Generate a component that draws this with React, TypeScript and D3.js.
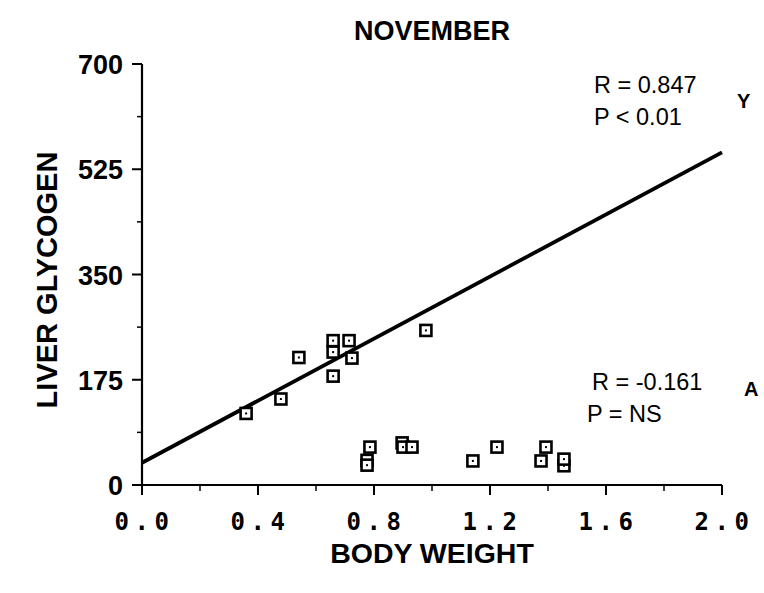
import React from "react";
import * as d3 from "d3";

const title = "NOVEMBER";
const xLabel = "BODY WEIGHT";
const yLabel = "LIVER GLYCOGEN";
const xTicks = [0, 0.4, 0.8, 1.2, 1.6, 2.0];
const xMinorTicks = [0.2, 0.6, 1.0, 1.4, 1.8];
const yTicks = [0, 175, 350, 525, 700];
const yMinorTicks = [87.5, 262.5, 437.5, 612.5];

// Group Y
const yWeight = [0.359, 0.479, 0.541, 0.659, 0.714, 0.659, 0.724, 0.659, 0.979];
const yGlycogen = [119, 143, 212, 240, 240, 221, 211, 181, 257];
// Group A
const aWeight = [0.786, 0.776, 0.776, 0.897, 0.9, 0.931, 1.141, 1.224, 1.393, 1.376, 1.455, 1.455];
const aGlycogen = [63, 41, 33, 70, 63, 63, 40, 63, 63, 40, 32, 43];

// regression line for group Y
const regX = [0, 2.0];
const regY = [37, 553];

const W = 764;
const H = 593;

export default function App() {
  const x = d3.scaleLinear().domain([0, 2]).range([142, 722]);
  const y = d3.scaleLinear().domain([0, 700]).range([485, 64]);
  const pts = [
    ...yWeight.map((w, i) => [w, yGlycogen[i]]),
    ...aWeight.map((w, i) => [w, aGlycogen[i]]),
  ];
  const line = d3.line<number>().x((d) => x(d)).y((_, i) => y(regY[i]));
  const sans = "'Liberation Sans', Arial, sans-serif";
  return (
    <svg width={W} height={H} style={{ position: "absolute", left: 0, top: 0, background: "#fff" }}>
      <text x={432} y={40} textAnchor="middle" fontFamily={sans} fontWeight="bold" fontSize={27}>
        {title}
      </text>
      {/* axes */}
      <line x1={x(0)} x2={x(2)} y1={y(0)} y2={y(0)} stroke="#000" strokeWidth={2.2} />
      <line x1={x(0)} x2={x(0)} y1={y(0)} y2={y(700)} stroke="#000" strokeWidth={2.2} />
      {yTicks.map((t) => (
        <g key={"yt" + t}>
          <line x1={x(0) - 10} x2={x(0)} y1={y(t)} y2={y(t)} stroke="#000" strokeWidth={2} />
          <text x={123} y={y(t) + 10} textAnchor="end" fontFamily={sans} fontWeight="bold" fontSize={27}>
            {t}
          </text>
        </g>
      ))}
      {yMinorTicks.map((t) => (
        <line key={"ym" + t} x1={x(0) - 5} x2={x(0)} y1={y(t)} y2={y(t)} stroke="#000" strokeWidth={1.5} />
      ))}
      {xTicks.map((t) => (
        <g key={"xt" + t}>
          <line x1={x(t)} x2={x(t)} y1={y(0)} y2={y(0) + 10} stroke="#000" strokeWidth={2} />
          <text
            x={x(t) + 2.5}
            y={530}
            textAnchor="middle"
            fontFamily="'DejaVu Sans Mono', monospace"
            fontWeight="bold"
            fontSize={24}
            letterSpacing={5.5}
          >
            {t.toFixed(1)}
          </text>
        </g>
      ))}
      {xMinorTicks.map((t) => (
        <line key={"xm" + t} x1={x(t)} x2={x(t)} y1={y(0)} y2={y(0) + 6} stroke="#000" strokeWidth={1.5} />
      ))}
      <text x={432} y={563} textAnchor="middle" fontFamily={sans} fontWeight="bold" fontSize={28.5}>
        {xLabel}
      </text>
      <text
        transform={`translate(57,280) rotate(-90)`}
        textAnchor="middle"
        fontFamily={sans}
        fontWeight="bold"
        fontSize={29}
      >
        {yLabel}
      </text>
      {/* regression */}
      <path d={line(regX) || ""} stroke="#000" strokeWidth={3.8} fill="none" />
      {/* points */}
      {pts.map(([w, g], i) => (
        <g key={"p" + i}>
          <rect x={x(w) - 5.5} y={y(g) - 5.5} width={11} height={11} fill="#fff" stroke="#000" strokeWidth={2.6} />
          <rect x={x(w) - 1} y={y(g) - 1} width={2} height={2} fill="#000" />
        </g>
      ))}
      {/* annotations */}
      <text x={594} y={93} fontFamily={sans} fontSize={23.5}>R = 0.847</text>
      <text x={594} y={125} fontFamily={sans} fontSize={23.5}>P &lt; 0.01</text>
      <text x={737} y={108} fontFamily={sans} fontWeight="bold" fontSize={20}>Y</text>
      <text x={592} y={390} fontFamily={sans} fontSize={23.5}>R = -0.161</text>
      <text x={587} y={422} fontFamily={sans} fontSize={23.5}>P = NS</text>
      <text x={744} y={396} fontFamily={sans} fontWeight="bold" fontSize={20}>A</text>
    </svg>
  );
}
